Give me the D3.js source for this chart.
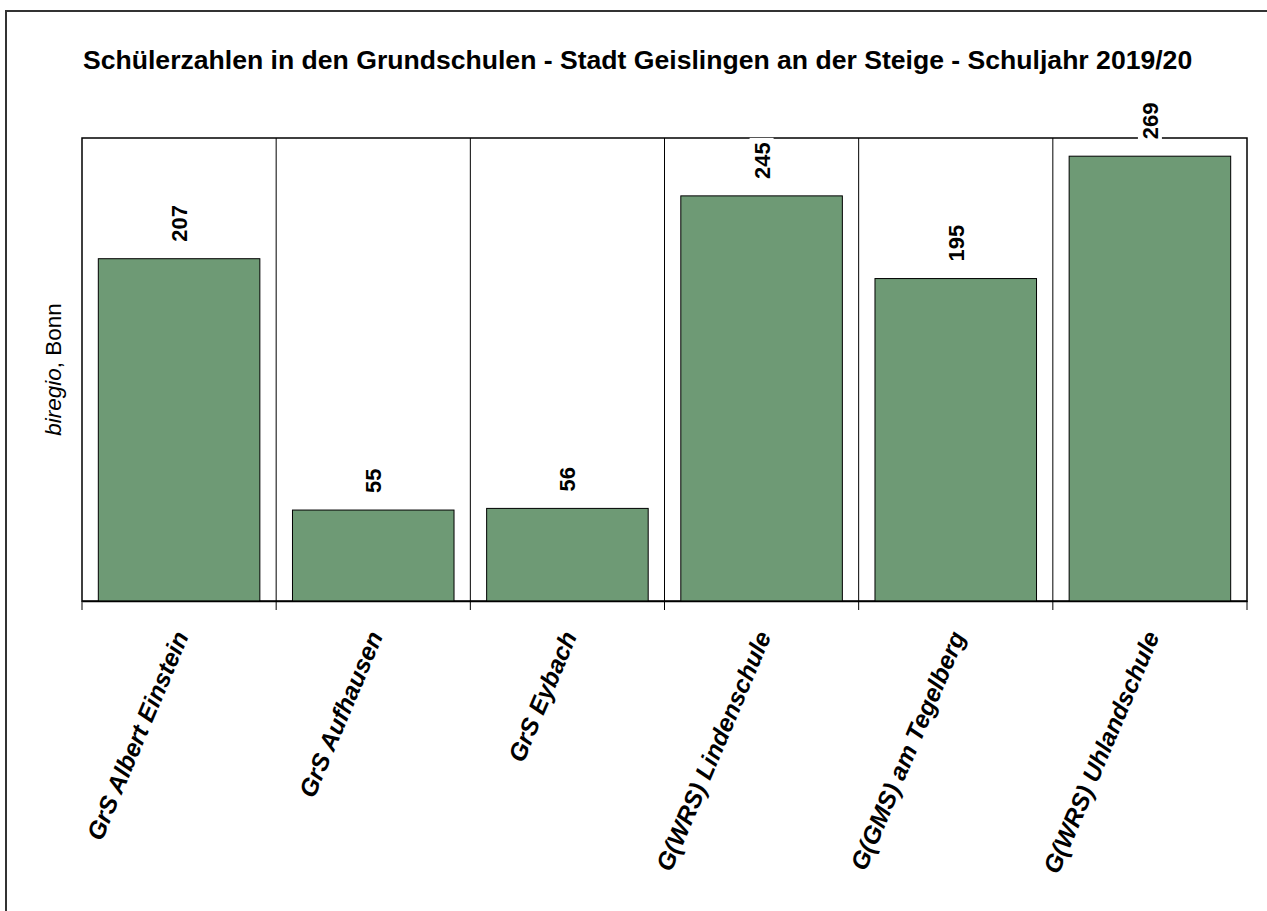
<!DOCTYPE html>
<html>
<head>
<meta charset="utf-8">
<script src="https://cdn.jsdelivr.net/npm/d3@7"></script>
<style>
  html, body { margin: 0; padding: 0; background: #fff; }
  svg { display: block; font-family: Arial, "Liberation Sans", sans-serif; }
</style>
</head>
<body>
<svg id="chart" width="1267" height="911"></svg>
<script>
const title = "Schülerzahlen in den Grundschulen - Stadt Geislingen an der Steige - Schuljahr 2019/20";
const categories = ["GrS Albert Einstein", "GrS Aufhausen", "GrS Eybach", "G(WRS) Lindenschule", "G(GMS) am Tegelberg", "G(WRS) Uhlandschule"];
const values = [207, 55, 56, 245, 195, 269];
const yDomain = [0, 280];

const svg = d3.select("#chart");
const plot = { left: 82, right: 1247, top: 138, bottom: 601 };

// outer frame (only top & left visible)
svg.append("rect").attr("x", 6).attr("y", 11).attr("width", 1400).attr("height", 1100)
  .attr("fill", "none").attr("stroke", "#333").attr("stroke-width", 2);

// title
const t = svg.append("text").attr("x", 83).attr("y", 69)
  .attr("font-weight", "bold").attr("font-size", 22).text(title);
const tl = t.node().getComputedTextLength();
t.attr("font-size", 22 * 1110 / tl);

const x = d3.scaleBand().domain(categories).range([plot.left, plot.right]).padding(0);
const y = d3.scaleLinear().domain(yDomain).range([plot.bottom, plot.top]);
const bw = x.bandwidth();

// plot frame
svg.append("rect").attr("x", plot.left).attr("y", plot.top)
  .attr("width", plot.right - plot.left).attr("height", plot.bottom - plot.top)
  .attr("fill", "none").attr("stroke", "#000").attr("stroke-width", 1.5);

// dividers
svg.selectAll("line.div").data(categories.slice(1)).enter().append("line")
  .attr("x1", d => x(d)).attr("x2", d => x(d))
  .attr("y1", plot.top).attr("y2", plot.bottom)
  .attr("stroke", "#000").attr("stroke-width", 1);

// bars
svg.selectAll("rect.bar").data(categories).enter().append("rect")
  .attr("x", d => x(d) + bw * 0.084)
  .attr("width", bw * 0.832)
  .attr("y", (d, i) => y(values[i]))
  .attr("height", (d, i) => y(0) - y(values[i]))
  .attr("fill", "#6e9a75").attr("stroke", "#000").attr("stroke-width", 1);

// bottom axis
const xAxis = d3.axisBottom(x).tickSize(0).tickFormat("");
const ax = svg.append("g").attr("transform", `translate(0,${plot.bottom})`).call(xAxis);
ax.select(".domain").attr("stroke", "#000").attr("stroke-width", 1.5);
const bounds = categories.map(c => x(c)).concat([plot.right]);
ax.selectAll("line.bt").data(bounds).enter().append("line")
  .attr("x1", d => d).attr("x2", d => d).attr("y1", 0).attr("y2", 9)
  .attr("stroke", "#000").attr("stroke-width", 1);

// category labels
svg.selectAll("text.cat").data(categories).enter().append("text")
  .attr("transform", d => `translate(${x(d) + bw / 2 + 10},${plot.bottom + 35}) rotate(-67)`)
  .attr("text-anchor", "end")
  .attr("font-weight", "bold").attr("font-style", "italic")
  .attr("font-size", 24.5)
  .text(d => d);

// value labels
const vl = svg.selectAll("g.val").data(categories).enter().append("g")
  .attr("transform", (d, i) => `translate(${x(d) + bw / 2},${y(values[i]) - 17}) rotate(-90)`);
vl.append("rect").attr("x", -3).attr("y", -12).attr("width", 44).attr("height", 24).attr("fill", "#fff");
vl.append("text").attr("x", 0).attr("y", 0).attr("dy", "0.36em")
  .attr("font-weight", "bold").attr("font-size", 22)
  .text((d, i) => values[i]);

// y-axis source label
const yl = svg.append("text")
  .attr("transform", `translate(61,${(plot.top + plot.bottom) / 2}) rotate(-90)`)
  .attr("text-anchor", "middle").attr("font-size", 22.5);
yl.append("tspan").attr("font-style", "italic").text("biregio");
yl.append("tspan").text(", Bonn");
</script>
</body>
</html>
